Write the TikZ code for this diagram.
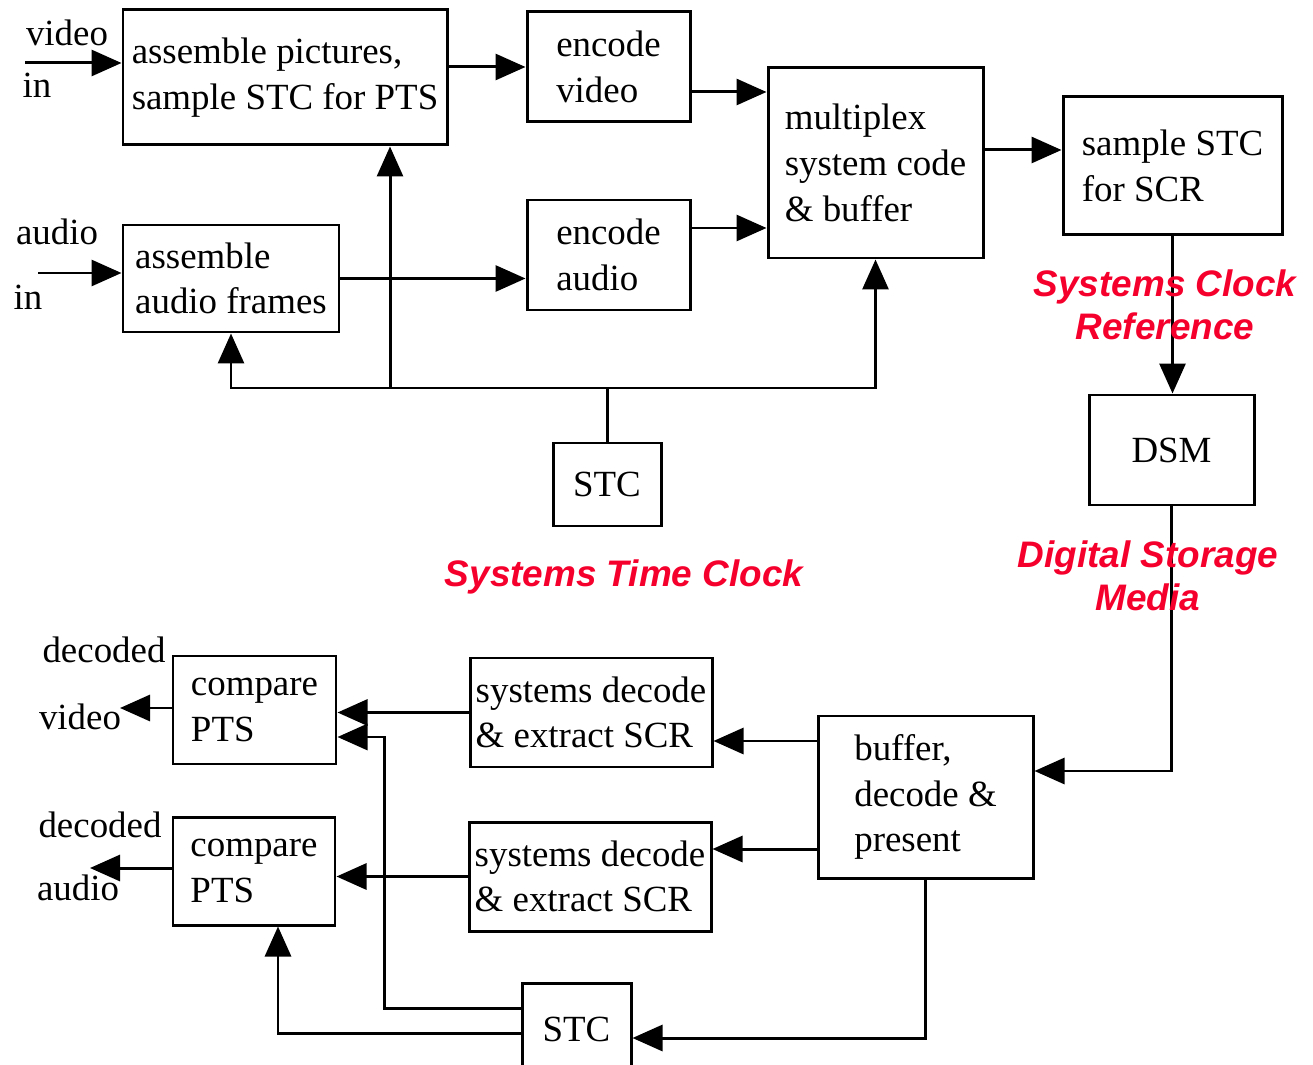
\documentclass[tikz,border=0pt]{standalone}
\usepackage{fontspec}
\setmainfont{Liberation Serif}
\setsansfont{Liberation Sans}
\usepackage{tikz}
\usetikzlibrary{arrows.meta}
\definecolor{notered}{RGB}{245,0,45}
\tikzset{
    box/.style={draw, line width=0.85pt, align=left, inner xsep=0.3mm, inner ysep=0pt}, % 方框
    tag/.style={inner sep=0pt}, % 输入输出文字
    note/.style={text=notered, align=center, font=\fontsize{10.5}{12.2}\selectfont\sffamily\bfseries\itshape}, % 红色注释
    flow/.style={line width=0.85pt, -{Triangle[length=3mm, width=2.6mm]}} % 带箭头的连线
}

\begin{document}
\begin{tikzpicture}[x=0.1mm, y=-0.1mm, font=\fontsize{10.5}{13}\selectfont]
    \useasboundingbox (0,0) rectangle (1313,1065);

    % 编码端
    \node[box, minimum width=32.4mm, minimum height=13.5mm] (asmpic) at (285,77.5) {assemble pictures,\\sample STC for PTS};
    \node[box, minimum width=21.6mm, minimum height=10.7mm] (asmaud) at (231,278.5) {assemble\\audio frames};
    \node[box, minimum width=16.3mm, minimum height=11mm] (encvid) at (608.5,67) {encode\\video};
    \node[box, minimum width=16.3mm, minimum height=11mm] (encaud) at (608.5,255) {encode\\audio};
    \node[box, minimum width=21.5mm, minimum height=19mm] (mux) at (875.5,163) {multiplex\\system code\\\& buffer};
    \node[box, minimum width=21.9mm, minimum height=13.8mm] (smpscr) at (1172.5,166) {sample STC\\for SCR};
    \node[box, minimum width=16.5mm, minimum height=11mm] (dsm) at (1171.5,450) {DSM};
    \node[box, minimum width=10.8mm, minimum height=8.3mm] (stcenc) at (607,484.5) {STC};

    % 解码端
    \node[box, minimum width=21.5mm, minimum height=16.2mm] (buf) at (925.5,797) {buffer,\\decode \&\\present};
    \node[box, minimum width=24.2mm, minimum height=10.9mm] (sysdv) at (591,712.5) {systems decode\\\& extract SCR};
    \node[box, minimum width=24.2mm, minimum height=10.9mm] (sysda) at (590,876.5) {systems decode\\\& extract SCR};
    \node[box, minimum width=16.3mm, minimum height=10.8mm] (cmpv) at (254.5,710) {compare\\PTS};
    \node[box, minimum width=16.2mm, minimum height=10.8mm] (cmpa) at (254,871) {compare\\PTS};
    \node[box, minimum width=10.9mm, minimum height=9.2mm] (stcdec) at (576.5,1029) {STC};

    \node[tag] (vidtxt) at (67,33) {video};
    \node[tag] (vidin) at (37,85) {in};
    \node[tag] (audtxt) at (57,232) {audio};
    \node[tag] (audin) at (28,297) {in};
    \node[tag] (decv) at (104,650) {decoded};
    \node[tag] (decvtxt) at (80,717) {video};
    \node[tag] (deca) at (100,825) {decoded};
    \node[tag] (decatxt) at (78,888) {audio};

    \coordinate (vin) at (25,63);
    \coordinate (ain) at (38,273);
    \coordinate (vout) at (120,708);
    \coordinate (aout) at (90,868);
    \coordinate (bus) at (607,388);
    \coordinate (tap) at (390,388);

    \draw[flow] (vin) -- (vin -| asmpic.west);
    \draw[flow] (ain) -- (ain -| asmaud.west);
    \draw[flow] (asmpic.east |- encvid.west) -- (encvid.west);
    \draw[flow] (asmaud.east) -- (asmaud.east -| encaud.west);
    \draw[flow] ([yshift=-2.5mm]encvid.east) -- ([yshift=-2.5mm]encvid.east -| mux.west);
    \draw[flow] ([yshift=2.7mm]encaud.east) -- ([yshift=2.7mm]encaud.east -| mux.west);
    \draw[flow] ([yshift=1.3mm]mux.east) -- ([yshift=1.3mm]mux.east -| smpscr.west);
    \draw[flow] (smpscr.south) -- (smpscr.south |- dsm.north);
    \draw[flow] (dsm.south) |- ([yshift=2.6mm]buf.east);
    \draw[flow] (stcenc.north) -- (bus) -| (asmaud.south);
    \draw[flow] (bus) -| (mux.south);
    \draw[flow] (tap) -- (tap |- asmpic.south);

    \draw[flow] ([yshift=5.6mm]buf.west) -- ([yshift=5.6mm]buf.west -| sysdv.east);
    \draw[flow] ([yshift=-5.2mm]buf.west) -- ([yshift=-5.2mm]buf.west -| sysda.east);
    \draw[flow] (sysdv.west) -- (sysdv.west -| cmpv.east);
    \draw[flow] (sysda.west) -- (sysda.west -| cmpa.east);
    \draw[flow] (cmpv.west |- vout) -- (vout);
    \draw[flow] (cmpa.west |- aout) -- (aout);
    \draw[flow] (buf.south) |- ([yshift=-0.9mm]stcdec.east);
    \draw[flow] ([yshift=2.1mm]stcdec.west) -- ++(-136,0) |- ([yshift=-2.7mm]cmpv.east);
    \draw[flow] ([yshift=-0.4mm]stcdec.west) -| ([xshift=2.4mm]cmpa.south);

    \node[note] (scrnote) at (1165,305) {Systems Clock\\Reference};
    \node[note] (stcnote) at (624,577) {Systems Time Clock};
    \node[note] (dsmnote) at (1148,576) {Digital Storage\\Media};
\end{tikzpicture}
\end{document}
